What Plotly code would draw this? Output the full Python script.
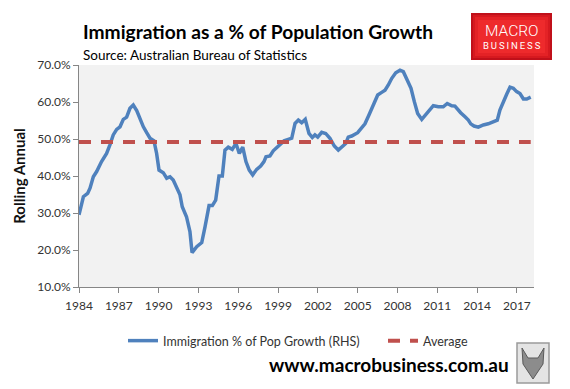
import plotly.graph_objects as go

# ---- data ----
years = [1984.0, 1984.33, 1984.65, 1984.83, 1985.08, 1985.33, 1985.7, 1986.08, 1986.33, 1986.58,
         1986.84, 1987.09, 1987.34, 1987.59, 1987.84, 1988.09, 1988.35, 1988.6, 1988.85, 1989.1,
         1989.35, 1989.65, 1989.85, 1990.03, 1990.35, 1990.61, 1990.86, 1991.1, 1991.36, 1991.61,
         1991.78, 1992.1, 1992.36, 1992.52, 1992.87, 1993.25, 1993.5, 1993.8, 1994.05, 1994.3,
         1994.55, 1994.8, 1995.0, 1995.25, 1995.55, 1995.83, 1996.08, 1996.34, 1996.58, 1996.83,
         1997.09, 1997.39, 1997.69, 1997.94, 1998.09, 1998.39, 1998.64, 1998.94, 1999.2, 1999.45,
         1999.77, 2000.03, 2000.28, 2000.53, 2000.78, 2001.05, 2001.33, 2001.58, 2001.78, 2001.99,
         2002.29, 2002.59, 2002.91, 2003.24, 2003.54, 2003.84, 2004.1, 2004.29, 2004.55, 2005.0,
         2005.3, 2005.55, 2005.85, 2006.18, 2006.51, 2006.81, 2007.06, 2007.31, 2007.57, 2007.87,
         2008.19, 2008.44, 2008.69, 2009.02, 2009.27, 2009.52, 2009.83, 2010.2, 2010.45, 2010.7,
         2011.08, 2011.45, 2011.75, 2012.09, 2012.33, 2012.58, 2012.76, 2013.09, 2013.34, 2013.52,
         2013.77, 2014.09, 2014.47, 2014.84, 2015.22, 2015.52, 2015.72, 2015.97, 2016.23, 2016.48,
         2016.73, 2016.98, 2017.23, 2017.49, 2017.74, 2018.04]
immigration_pct = [29.5, 34.4, 35.3, 36.7, 39.8, 41.2, 43.9, 46.1, 48.4, 51.1,
                   52.6, 53.3, 55.3, 55.9, 58.3, 59.2, 57.7, 55.3, 53.3, 51.7,
                   50.2, 49.5, 46.1, 41.6, 40.9, 39.4, 39.8, 38.9, 37.1, 34.9,
                   31.7, 29.0, 25.0, 19.3, 20.9, 22.0, 26.3, 32.0, 32.0, 33.5,
                   40.0, 40.0, 47.0, 47.8, 47.2, 48.8, 46.1, 47.8, 43.9, 41.6,
                   40.3, 41.8, 42.7, 43.9, 45.2, 45.4, 46.8, 47.9, 48.8, 49.5,
                   49.9, 50.2, 54.2, 55.1, 54.4, 55.3, 51.5, 50.4, 51.1, 50.5,
                   51.8, 51.5, 50.2, 48.1, 47.0, 47.9, 48.8, 50.5, 50.8, 51.7,
                   52.9, 54.1, 56.5, 59.2, 61.9, 62.6, 63.2, 64.6, 66.4, 67.9,
                   68.6, 68.2, 66.4, 63.7, 60.1, 56.9, 55.3, 56.8, 58.0, 59.0,
                   58.7, 58.7, 59.6, 59.0, 58.9, 57.8, 57.1, 56.0, 55.1, 54.1,
                   53.5, 53.2, 53.8, 54.1, 54.7, 55.1, 57.8, 60.1, 62.1, 64.0,
                   63.7, 62.8, 62.3, 60.8, 60.8, 61.3]
average_pct = 49.2
x_tick_years = [1984, 1987, 1990, 1993, 1996, 1999, 2002, 2005, 2008, 2011, 2014, 2017]
y_tick_values = [10, 20, 30, 40, 50, 60, 70]

# ---- layout geometry (pixels) ----
W, H = 570, 389
PL, PR, PT, PB = 79, 534, 65, 287

def px(x):
    return (x - PL) / (PR - PL)

def py(y):
    return (PB - y) / (PB - PT)

FONT = "Lato"
TXT = "#333333"

fig = go.Figure()
fig.add_trace(go.Scatter(
    x=years, y=immigration_pct, mode="lines",
    name="Immigration % of Pop Growth (RHS)",
    line=dict(color="#4F81BD", width=3.5),
    legend="legend",
))
fig.add_trace(go.Scatter(
    x=[years[0], years[-1]], y=[average_pct, average_pct], mode="lines",
    name="Average",
    line=dict(color="#C0504D", width=4, dash="12px,10px"),
    legend="legend2",
))

legend_common = dict(
    orientation="h", xref="container", yref="container",
    xanchor="left", yanchor="middle",
    font=dict(family=FONT, size=12.5, color=TXT),
    bgcolor="rgba(0,0,0,0)",
)

fig.update_layout(
    width=W, height=H,
    margin=dict(l=PL, r=W - PR, t=PT, b=H - PB, autoexpand=False),
    paper_bgcolor="white",
    plot_bgcolor="#F2F2F2",
    font=dict(family=FONT, size=12, color=TXT),
    showlegend=True,
    legend=dict(x=123 / W, y=1 - 341 / H, **legend_common),
    legend2=dict(x=383 / W, y=1 - 341 / H, **legend_common),
    xaxis=dict(
        range=[1984, 1984 + (PR - PL) / 13.27],
        tickmode="array", tickvals=x_tick_years, ticktext=[str(y) for y in x_tick_years],
        showgrid=False, zeroline=False, automargin=False,
        showline=True, linecolor="#868686", linewidth=1,
        ticks="outside", ticklen=5, tickcolor="#868686", ticklabelstandoff=3,
        tickfont=dict(family=FONT, size=12, color=TXT),
        fixedrange=True,
    ),
    yaxis=dict(
        range=[10, 70],
        tickmode="array", tickvals=y_tick_values,
        ticktext=[f"{v:.1f}%" for v in y_tick_values],
        showgrid=False, zeroline=False, automargin=False,
        showline=True, linecolor="#868686", linewidth=1,
        ticks="outside", ticklen=5, tickcolor="#868686",
        tickfont=dict(family=FONT, size=12, color=TXT),
        title=dict(text="<b>Rolling Annual</b>", font=dict(family=FONT, size=15, color="#111111"), standoff=8),
        fixedrange=True,
    ),
)

ann = []
ann.append(dict(text="<b>Immigration as a % of Population Growth</b>", x=px(81), y=py(31),
                xref="paper", yref="paper", xanchor="left", yanchor="middle", showarrow=False,
                font=dict(family=FONT, size=19.2, color="#000000")))
ann.append(dict(text="Source: Australian Bureau of Statistics", x=px(81), y=py(55),
                xref="paper", yref="paper", xanchor="left", yanchor="middle", showarrow=False,
                font=dict(family=FONT, size=13.5, color="#000000")))
ann.append(dict(text="MACRO", x=px(511.5), y=py(31),
                xref="paper", yref="paper", xanchor="center", yanchor="middle", showarrow=False,
                font=dict(family="Roboto", size=15.5, color="#FFFFFF", weight=300)))
ann.append(dict(text="B\u2009U\u2009S\u2009I\u2009N\u2009E\u2009S\u2009S", x=px(511.5), y=py(45),
                xref="paper", yref="paper", xanchor="center", yanchor="middle", showarrow=False,
                font=dict(family="Roboto", size=9.5, color="#FFFFFF")))
ann.append(dict(text="<b>www.macrobusiness.com.au</b>", x=px(511), y=py(364),
                xref="paper", yref="paper", xanchor="right", yanchor="middle", showarrow=False,
                font=dict(family=FONT, size=19, color="#000000")))
fig.update_layout(annotations=ann)

shapes = []
# logo box with a simple vignette
for inset, col in [(0, "#C0101A"), (2, "#D6191F"), (4, "#E42226"), (7, "#EE2A2C")]:
    shapes.append(dict(type="rect", xref="paper", yref="paper",
                       x0=px(471 + inset), x1=px(552 - inset), y0=py(13 + inset), y1=py(60 - inset),
                       fillcolor=col, line=dict(width=0), layer="above"))
# wolf icon placeholder
shapes.append(dict(type="rect", xref="paper", yref="paper",
                   x0=px(517), x1=px(549), y0=py(343), y1=py(383),
                   fillcolor="#E4E4E4", line=dict(color="#9A9A9A", width=1.5), layer="above"))
shapes.append(dict(type="path", xref="paper", yref="paper",
                   path=f"M {px(522)},{py(348)} L {px(528)},{py(358)} L {px(538)},{py(358)} L {px(544)},{py(348)} "
                        f"L {px(543)},{py(364)} L {px(533)},{py(379)} L {px(523)},{py(364)} Z",
                   fillcolor="#8C8C8C", line=dict(color="#5A5A5A", width=1), layer="above"))
fig.update_layout(shapes=shapes)

fig.write_html("out.html", config={"displayModeBar": False},
               post_script="document.body.style.margin='0';document.body.style.padding='0';")
